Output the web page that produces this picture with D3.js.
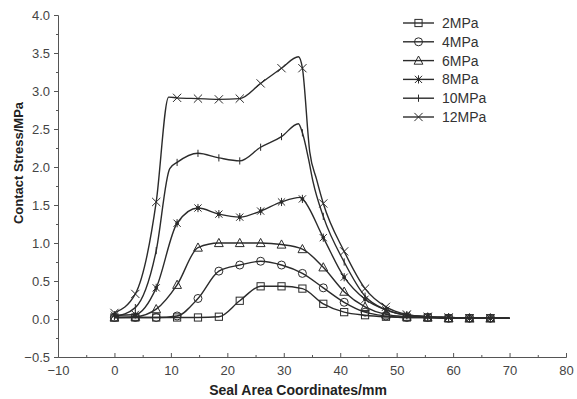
<!DOCTYPE html>
<html>
<head>
<meta charset="utf-8">
<script src="https://cdn.jsdelivr.net/npm/d3@7"></script>
<style>
  body { margin: 0; background: #fff; }
  svg { display: block; font-family: "Liberation Sans", Arial, sans-serif; }
</style>
</head>
<body>
<div id="chart"></div>
<script>
// marker positions along the seal (mm)
var xMarks = [0, 3.7, 7.4, 11.1, 14.8, 18.5, 22.2, 25.9, 29.6, 33.3, 37, 40.7, 44.4, 48.1, 51.8, 55.5, 59.2, 62.9, 66.6];
var xEnd = 70;

var names = ["2MPa", "4MPa", "6MPa", "8MPa", "10MPa", "12MPa"];
var symbols = ["square", "circle", "triangle", "asterisk", "plus", "times"];

// contact stress (MPa) at each marker
var p2  = [0.02, 0.02, 0.02, 0.02, 0.02, 0.03, 0.24, 0.43, 0.43, 0.40, 0.20, 0.09, 0.05, 0.03, 0.02, 0.02, 0.01, 0.01, 0.01];
var p4  = [0.02, 0.02, 0.02, 0.04, 0.27, 0.63, 0.71, 0.76, 0.71, 0.60, 0.41, 0.22, 0.09, 0.04, 0.02, 0.02, 0.01, 0.01, 0.01];
var p6  = [0.02, 0.03, 0.13, 0.45, 0.94, 1.00, 1.00, 1.00, 0.98, 0.92, 0.68, 0.36, 0.16, 0.06, 0.03, 0.02, 0.01, 0.01, 0.01];
var p8  = [0.05, 0.06, 0.41, 1.26, 1.46, 1.38, 1.34, 1.42, 1.54, 1.58, 1.07, 0.55, 0.26, 0.12, 0.05, 0.03, 0.02, 0.01, 0.01];
var p10 = [0.03, 0.15, 0.90, 2.06, 2.18, 2.12, 2.08, 2.26, 2.40, 2.45, 1.35, 0.75, 0.30, 0.12, 0.05, 0.03, 0.02, 0.01, 0.01];
var p12 = [0.08, 0.33, 1.54, 2.91, 2.90, 2.89, 2.90, 3.10, 3.30, 3.30, 1.52, 0.89, 0.40, 0.16, 0.06, 0.03, 0.02, 0.01, 0.01];

// extra curve points between markers (no symbol drawn)
var k2  = [[xEnd, 0.01]];
var k4  = [[xEnd, 0.01]];
var k6  = [[xEnd, 0.01]];
var k8  = [[32.9, 1.60], [xEnd, 0.01]];
var k10 = [[9.8, 1.98], [32.6, 2.57], [34.4, 2.10], [35.2, 1.80], [xEnd, 0.01]];
var k12 = [[9.6, 2.92], [32.6, 3.45], [34.6, 2.20], [35.8, 1.84], [xEnd, 0.01]];

var values = [p2, p4, p6, p8, p10, p12];
var knots = [k2, k4, k6, k8, k10, k12];

var xTicks = d3.range(-10, 81, 10);
var xMinor = d3.range(-5, 80, 10);
var yTicks = d3.range(-0.5, 4.01, 0.5);
var yMinor = d3.range(-0.25, 4, 0.5);

var width = 577, height = 399;
var svg = d3.select("#chart").append("svg").attr("width", width).attr("height", height);

var x = d3.scaleLinear().domain([-10, 80]).range([58, 566]);
var y = d3.scaleLinear().domain([-0.5, 4]).range([357, 15]);

var ink = "#2b2b2b";

// axes
var gx = svg.append("g").attr("transform", "translate(0," + y(-0.5) + ")")
    .call(d3.axisBottom(x).tickValues(xTicks).tickSize(-4).tickPadding(9).tickSizeOuter(0));
svg.append("g").attr("transform", "translate(0," + y(-0.5) + ")")
    .call(d3.axisBottom(x).tickValues(xMinor).tickSize(-2).tickFormat("").tickSizeOuter(0));
var gy = svg.append("g").attr("transform", "translate(" + x(-10) + ",0)")
    .call(d3.axisLeft(y).tickValues(yTicks).tickSize(4).tickPadding(4).tickFormat(d3.format(".1f")).tickSizeOuter(0));
svg.append("g").attr("transform", "translate(" + x(-10) + ",0)")
    .call(d3.axisLeft(y).tickValues(yMinor).tickSize(2).tickFormat("").tickSizeOuter(0));

svg.selectAll(".domain, .tick line").attr("stroke", "#555").attr("stroke-width", 1);
svg.selectAll(".tick text").attr("font-size", 13).attr("fill", "#444")
    .attr("font-family", "'Liberation Sans', Arial, sans-serif");

// axis titles
svg.append("text")
    .attr("x", 298).attr("y", 395)
    .attr("text-anchor", "middle")
    .attr("font-size", 14).attr("font-weight", "bold").attr("fill", "#222")
    .text("Seal Area Coordinates/mm");
svg.append("text")
    .attr("transform", "translate(23,163) rotate(-90)")
    .attr("text-anchor", "middle")
    .attr("font-size", 13).attr("font-weight", "bold").attr("fill", "#222")
    .text("Contact Stress/MPa");

// marker shapes
function marker(g, type, cx, cy) {
    var s = 3.6;
    if (type === "square") {
        g.append("rect").attr("x", cx - s).attr("y", cy - s).attr("width", 2 * s).attr("height", 2 * s);
    } else if (type === "circle") {
        g.append("circle").attr("cx", cx).attr("cy", cy).attr("r", s + 0.4);
    } else if (type === "triangle") {
        g.append("path").attr("d", "M" + cx + "," + (cy - s - 1) + "L" + (cx + s + 0.8) + "," + (cy + s) + "L" + (cx - s - 0.8) + "," + (cy + s) + "Z");
    } else if (type === "asterisk") {
        g.append("path").attr("d", "M" + (cx - s) + "," + (cy - s) + "L" + (cx + s) + "," + (cy + s) +
            "M" + (cx - s) + "," + (cy + s) + "L" + (cx + s) + "," + (cy - s) +
            "M" + cx + "," + (cy - s - 0.5) + "L" + cx + "," + (cy + s + 0.5));
        g.append("circle").attr("cx", cx).attr("cy", cy).attr("r", 1.4).attr("fill", ink);
    } else if (type === "plus") {
        g.append("path").attr("d", "M" + cx + "," + (cy - s) + "L" + cx + "," + (cy + s));
    } else if (type === "times") {
        g.append("path").attr("d", "M" + (cx - s - 0.5) + "," + (cy - s - 0.5) + "L" + (cx + s + 0.5) + "," + (cy + s + 0.5) +
            "M" + (cx - s - 0.5) + "," + (cy + s + 0.5) + "L" + (cx + s + 0.5) + "," + (cy - s - 0.5));
    }
}

var line = d3.line()
    .x(function (d) { return x(d[0]); })
    .y(function (d) { return y(d[1]); })
    .curve(d3.curveMonotoneX);

var plot = svg.append("g");

values.forEach(function (vals, i) {
    var pts = xMarks.map(function (xv, j) { return [xv, vals[j]]; })
        .concat(knots[i])
        .sort(function (a, b) { return a[0] - b[0]; });

    plot.append("path")
        .datum(pts)
        .attr("fill", "none")
        .attr("stroke", ink)
        .attr("stroke-width", 1.4)
        .attr("d", line);

    var mg = plot.append("g").attr("fill", "none").attr("stroke", ink).attr("stroke-width", 1);
    xMarks.forEach(function (xv, j) {
        marker(mg, symbols[i], x(xv), y(vals[j]));
    });
});

// legend
var legend = svg.append("g");
names.forEach(function (name, i) {
    var ly = 23 + i * 18.8;
    var row = legend.append("g").attr("fill", "none").attr("stroke", ink).attr("stroke-width", 1);
    row.append("line").attr("x1", 403).attr("x2", 434).attr("y1", ly).attr("y2", ly).attr("stroke-width", 1.4);
    marker(row, symbols[i], 418.5, ly);
    legend.append("text")
        .attr("x", 442).attr("y", ly).attr("dy", "0.36em")
        .attr("font-size", 14).attr("fill", "#333")
        .text(name);
});
</script>
</body>
</html>
